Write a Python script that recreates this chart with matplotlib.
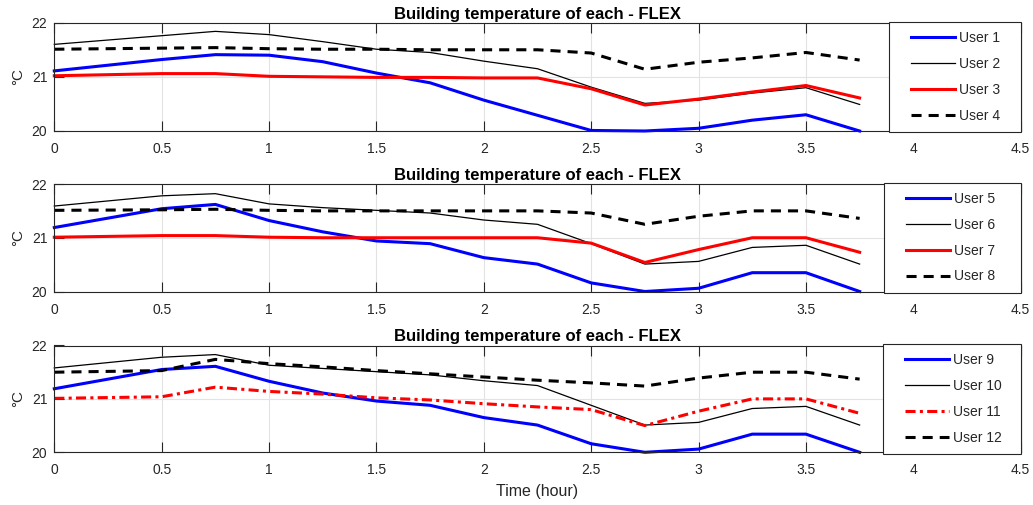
import matplotlib
matplotlib.use('Agg')
import matplotlib.pyplot as plt
from matplotlib.lines import Line2D
from matplotlib.legend_handler import HandlerLine2D

plt.rcParams['font.family'] = ['Liberation Sans', 'DejaVu Sans']

# time axis (hour)
times = [0, 0.5, 0.75, 1, 1.25, 1.5, 1.75, 2, 2.25, 2.5, 2.75, 3, 3.25, 3.5, 3.75]

# panel 1
user1 = [21.11, 21.32, 21.41, 21.40, 21.28, 21.07, 20.89, 20.57, 20.29, 20.01, 20.00, 20.05, 20.20, 20.30, 20.00]
user2 = [21.60, 21.76, 21.84, 21.78, 21.65, 21.51, 21.45, 21.29, 21.15, 20.81, 20.51, 20.57, 20.70, 20.80, 20.49]
user3 = [21.02, 21.06, 21.06, 21.01, 21.00, 20.99, 20.99, 20.98, 20.98, 20.78, 20.48, 20.59, 20.72, 20.84, 20.61]
user4 = [21.51, 21.53, 21.54, 21.52, 21.51, 21.51, 21.50, 21.50, 21.50, 21.44, 21.14, 21.27, 21.35, 21.45, 21.31]
# panel 2
user5 = [21.19, 21.54, 21.62, 21.32, 21.11, 20.94, 20.89, 20.63, 20.51, 20.16, 20.00, 20.06, 20.35, 20.35, 20.00]
user6 = [21.59, 21.78, 21.82, 21.63, 21.56, 21.51, 21.46, 21.33, 21.25, 20.89, 20.51, 20.56, 20.82, 20.86, 20.51]
user7 = [21.01, 21.04, 21.04, 21.01, 21.00, 21.00, 21.00, 21.00, 21.00, 20.90, 20.54, 20.78, 21.00, 21.00, 20.73]
user8 = [21.51, 21.52, 21.53, 21.51, 21.50, 21.50, 21.50, 21.50, 21.50, 21.46, 21.25, 21.40, 21.50, 21.50, 21.36]
# panel 3
user9 = [21.19, 21.55, 21.61, 21.33, 21.11, 20.96, 20.88, 20.65, 20.51, 20.16, 20.00, 20.06, 20.34, 20.34, 20.00]
user10 = [21.58, 21.78, 21.83, 21.63, 21.57, 21.51, 21.45, 21.34, 21.25, 20.88, 20.51, 20.56, 20.82, 20.86, 20.51]
user11 = [21.01, 21.04, 21.22, 21.14, 21.09, 21.02, 20.98, 20.91, 20.85, 20.80, 20.50, 20.77, 21.00, 21.00, 20.73]
user12 = [21.50, 21.53, 21.74, 21.66, 21.60, 21.53, 21.47, 21.41, 21.35, 21.30, 21.24, 21.39, 21.50, 21.50, 21.37]

xticks = [0, 0.5, 1, 1.5, 2, 2.5, 3, 3.5, 4, 4.5]
xticklabels = ['0', '0.5', '1', '1.5', '2', '2.5', '3', '3.5', '4', '4.5']
yticks = [20, 21, 22]

panels = [
    ([user1, user2, user3, user4], ['User 1', 'User 2', 'User 3', 'User 4'], False),
    ([user5, user6, user7, user8], ['User 5', 'User 6', 'User 7', 'User 8'], False),
    ([user9, user10, user11, user12], ['User 9', 'User 10', 'User 11', 'User 12'], True),
]

# line styles: blue thick, black thin, red thick, black dashed
styles = [
    dict(color='#0000ff', lw=2.2, ls='-'),
    dict(color='black', lw=0.9, ls='-'),
    dict(color='#ff0000', lw=2.2, ls='-'),
    dict(color='black', lw=2.2, ls=(0, (3.3, 2.3))),
]
dashdot = (0, (3.3, 1.4, 1.0, 1.4))

W, H = 1033, 505
fig = plt.figure(figsize=(W / 100, H / 100), dpi=100)

# axes boxes in pixels: (top, bottom), legend left edge
boxes = [(22.7, 131.0, 888.7), (184.0, 291.5, 884.0), (345.5, 452.3, 882.7)]
left_px, right_px = 54.3, 1020.7
dark = '#262626'

for (series, names, last), (top, bot, leg_left) in zip(panels, boxes):
    ax = fig.add_axes([left_px / W, 1 - bot / H, (right_px - left_px) / W, (bot - top) / H])
    for i, (vals, name) in enumerate(zip(series, names)):
        st = dict(styles[i])
        if last and i == 2:
            st['ls'] = dashdot
        ax.plot(times, vals, label=name, clip_on=False, **st)
    ax.set_xlim(0, 4.5)
    ax.set_ylim(20, 22)
    ax.set_xticks(xticks)
    ax.set_xticklabels(xticklabels)
    ax.set_yticks(yticks)
    ax.grid(True, color='#e3e3e3', lw=0.8)
    ax.set_axisbelow(True)
    # right-side ticks sit under the legend anyway
    ax.tick_params(direction='in', length=7, width=0.8, top=True, right=False,
                   labelsize=10, colors=dark)
    ax.tick_params(axis='x', pad=8)
    ax.tick_params(axis='y', pad=5)
    for sp in ax.spines.values():
        sp.set_color(dark)
        sp.set_linewidth(0.8)
    ax.set_ylabel('°C', fontsize=11, color=dark, labelpad=5)
    ax.set_title('Building temperature of each - FLEX', fontsize=12, fontweight='bold', pad=3)
    if last:
        ax.set_xlabel('Time (hour)', fontsize=11.5, color=dark, labelpad=5)
    x0 = (leg_left - left_px) / (right_px - left_px)
    leg = ax.legend(loc='center left', bbox_to_anchor=(x0, 0, 1 - x0, 1), mode='expand',
                    borderaxespad=0, fancybox=False, framealpha=1, edgecolor=dark,
                    fontsize=10, handlelength=4.1, handletextpad=0.25, labelspacing=0.85,
                    borderpad=0.68, handler_map={Line2D: HandlerLine2D(xpad=0.9)})
    leg.get_frame().set_linewidth(0.8)
    for t in leg.get_texts():
        t.set_color(dark)

fig.savefig('out.png', dpi=100)
